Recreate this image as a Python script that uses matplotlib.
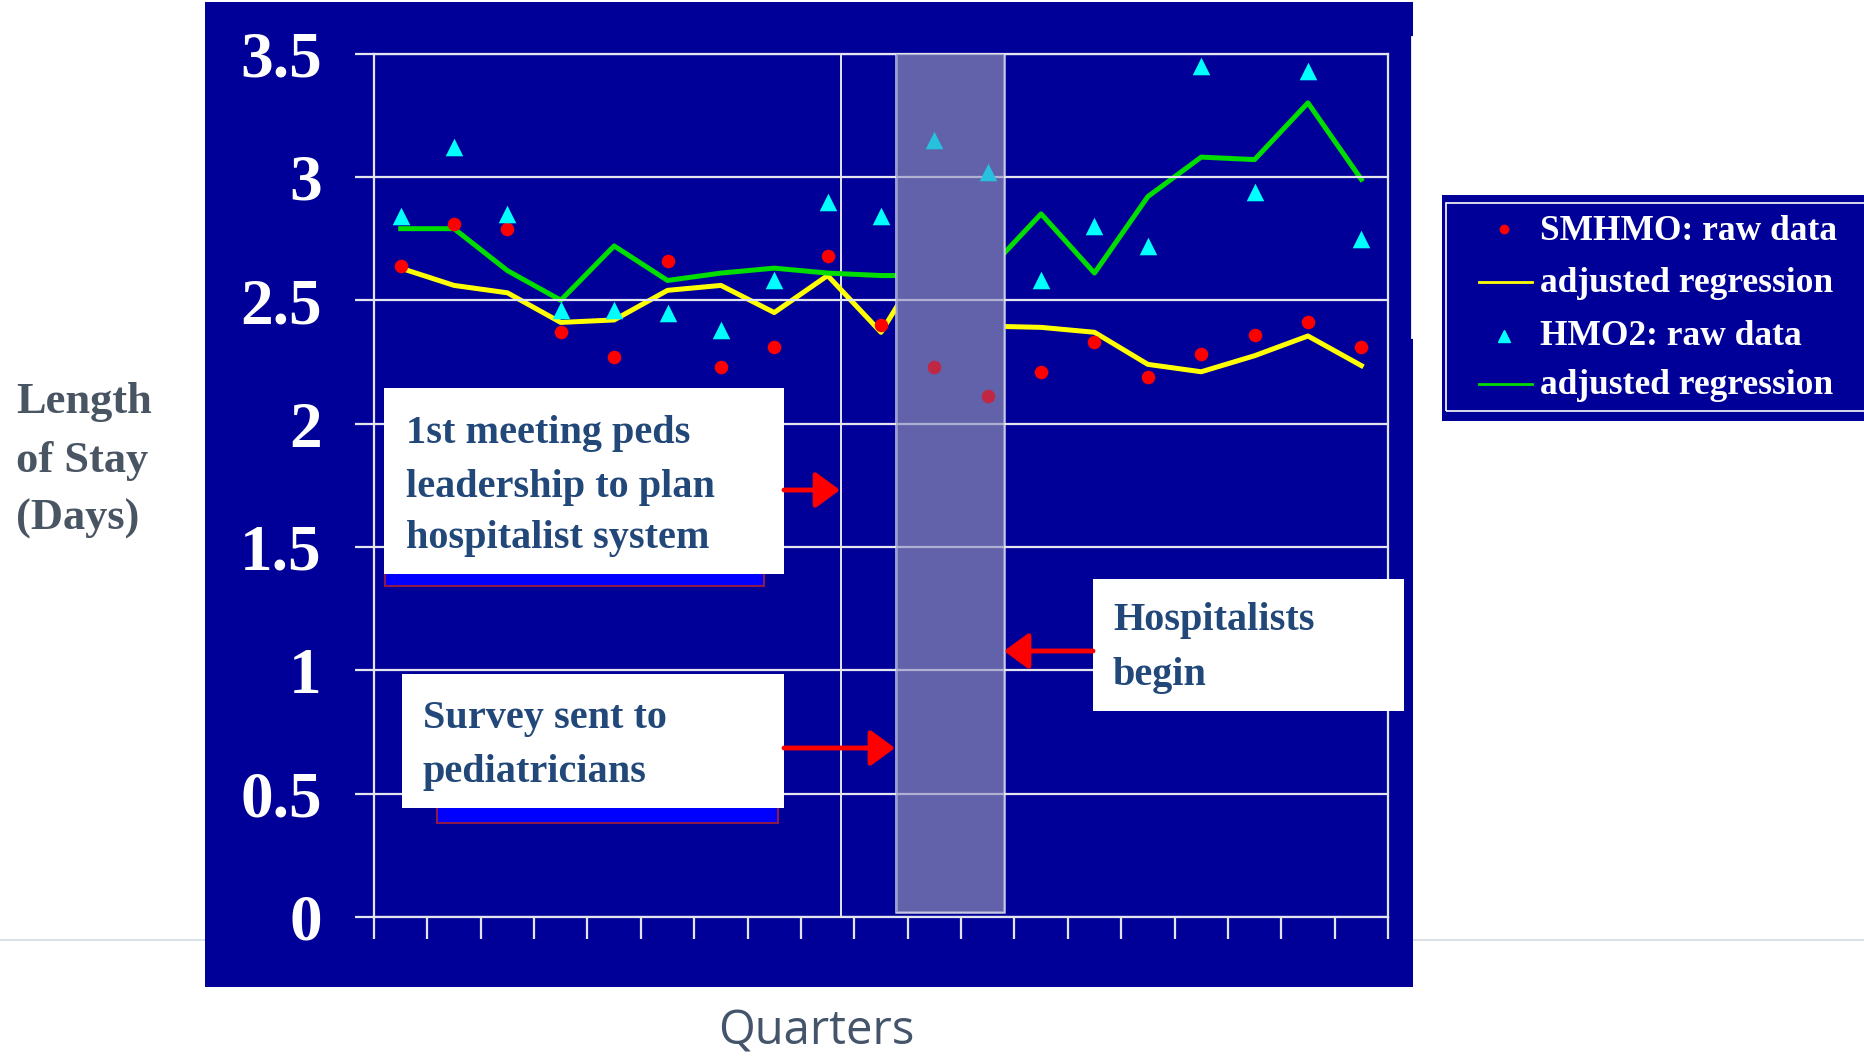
import numpy as np
import matplotlib
matplotlib.use("Agg")
import matplotlib.pyplot as plt
from matplotlib.patches import Rectangle, FancyArrowPatch
from matplotlib.lines import Line2D

# data (length of stay in days, per quarter)
quarters = np.arange(1, 20)
smhmo_raw = [2.64, 2.81, 2.79, 2.37, 2.27, 2.66, 2.23, 2.31, 2.68, 2.40,
             2.23, 2.11, 2.21, 2.33, 2.19, 2.28, 2.36, 2.41, 2.31]
smhmo_adj = [2.63, 2.56, 2.53, 2.41, 2.42, 2.54, 2.56, 2.45, 2.60, 2.37,
             2.72, 2.395, 2.39, 2.37, 2.24, 2.21, 2.275, 2.355, 2.235]
hmo2_raw = [2.84, 3.12, 2.85, 2.46, 2.46, 2.45, 2.38, 2.58, 2.90, 2.84,
            3.15, 3.02, 2.58, 2.80, 2.72, 3.45, 2.94, 3.43, 2.75]
hmo2_adj = [2.79, 2.79, 2.62, 2.50, 2.72, 2.58, 2.61, 2.63, 2.61, 2.60,
            2.60, 2.62, 2.85, 2.61, 2.92, 3.08, 3.07, 3.30, 2.99]
yticks = [0, 0.5, 1, 1.5, 2, 2.5, 3, 3.5]
ytick_labels = ["0", "0.5", "1", "1.5", "2", "2.5", "3", "3.5"]
legend_labels = ["SMHMO: raw data", "adjusted regression",
                 "HMO2: raw data", "adjusted regression"]
meeting_q = 9.25
band_q = (10.29, 12.30)

W, H = 1865, 1057
BG = "#000099"
BAND = "#6262AA"
GRID = "#E4E4EE"
NAVY_TXT = "#22487A"
SERIF = "Liberation Serif"


def fx(x):
    return x / W


def fy(y):
    return 1 - y / H


fig = plt.figure(figsize=(W / 100, H / 100), dpi=100)
fig.patch.set_facecolor("white")

# slide footer line and blue panel
fig.add_artist(Line2D([0, 1], [fy(940)] * 2, color="#D5DCE4", lw=1.2, zorder=-3))
fig.add_artist(Rectangle((fx(205), fy(987)), fx(1413) - fx(205), fy(2) - fy(987),
                         facecolor=BG, edgecolor="none", zorder=-2))
fig.add_artist(Line2D([fx(1412)] * 2, [fy(337), fy(37)], color="white", lw=2, zorder=-1))

ax = fig.add_axes([fx(374), fy(917), fx(1388) - fx(374), fy(53.5) - fy(917)])
ax.set_facecolor(BG)
ax.set_xlim(0.5, 19.5)
ax.set_ylim(0, 3.5)

for y in yticks:
    ax.axhline(y, color=GRID, lw=1.6, zorder=3.5)
ax.axvline(meeting_q, color=GRID, lw=1.4, zorder=1)

ax.plot(quarters, smhmo_adj, color="#FFFF00", lw=3.6, zorder=2)
ax.plot(quarters, hmo2_adj, color="#00DD00", lw=3.6, zorder=2)

# shaded transition period hides the regression lines
ax.add_patch(Rectangle((band_q[0], 0.02), band_q[1] - band_q[0], 3.49,
                       facecolor=BAND, edgecolor="#C8C8E4", lw=1.8, zorder=3))

ax.scatter(quarters, smhmo_raw, marker="o", s=95, color="#FF0000", lw=0, zorder=4)
ax.scatter(quarters, hmo2_raw, marker="^", s=160, color="#00FFFF", lw=0, zorder=4)

ax.add_patch(Rectangle((band_q[0], 0.02), band_q[1] - band_q[0], 3.49,
                       facecolor=BAND, edgecolor="none", alpha=0.4, zorder=5))

for side in ["left", "right", "bottom", "top"]:
    ax.spines[side].set_color(GRID)
    ax.spines[side].set_linewidth(1.6)

ax.set_yticks(yticks)
ax.set_yticklabels(ytick_labels, fontfamily=SERIF, fontweight="bold")
ax.set_xticks(np.arange(0.5, 19.6, 1))
ax.set_xticklabels([])
ax.tick_params(axis="y", length=13.7, width=1.6, color=GRID, pad=24,
               labelsize=47, labelcolor="white")
ax.tick_params(axis="x", length=16, width=1.6, color=GRID)

# axis titles
for txt, yb in zip(["Length", "of Stay", "(Days)"], [413, 472, 530]):
    fig.text(fx(16), fy(yb), txt, fontsize=32, fontweight="bold", family=SERIF,
             color="#4A5563", va="baseline", ha="left")
fig.text(fx(816), fy(1044), "Quarters", fontsize=34, family="Open Sans",
         color="#44546A", ha="center", va="baseline")


def note_box(x0, y0, x1, y1, lines, baselines, tx, shadow=None):
    if shadow is not None:
        sx0, sx1, sy1 = shadow
        fig.add_artist(Rectangle((fx(sx0), fy(sy1)), fx(sx1) - fx(sx0), fy(y1 - 10) - fy(sy1),
                                 facecolor="#0000FF", edgecolor="#8B1A4A", lw=1.5, zorder=5))
    fig.add_artist(Rectangle((fx(x0), fy(y1)), fx(x1) - fx(x0), fy(y0) - fy(y1),
                             facecolor="white", edgecolor="none", zorder=6))
    for t, yb in zip(lines, baselines):
        fig.text(fx(tx), fy(yb), t, fontsize=29, fontweight="bold", family=SERIF,
                 color=NAVY_TXT, va="baseline", ha="left", zorder=7)


def red_arrow(x0, x1, y):
    fig.add_artist(FancyArrowPatch((fx(x0), fy(y)), (fx(x1), fy(y)),
                                   transform=fig.transFigure,
                                   arrowstyle="-|>,head_length=0.75,head_width=0.55",
                                   mutation_scale=20, color="#FF0000", lw=3.5,
                                   shrinkA=0, shrinkB=0, zorder=6))


note_box(384, 388, 784, 574,
         ["1st meeting peds", "leadership to plan", "hospitalist system"],
         [443, 497, 548], 406, shadow=(385, 764, 586))
red_arrow(784, 840, 490)

note_box(402, 674, 784, 808, ["Survey sent to", "pediatricians"],
         [728, 782], 423, shadow=(437, 778, 823))
red_arrow(784, 895, 748)

note_box(1093, 579, 1404, 711, ["Hospitalists", "begin"], [630, 685], 1113)
red_arrow(1093, 1004, 651)

# legend panel
fig.add_artist(Rectangle((fx(1442), fy(421)), fx(1870) - fx(1442), fy(195) - fy(421),
                         facecolor=BG, edgecolor="none", zorder=5))
fig.add_artist(Rectangle((fx(1446), fy(411)), fx(1870) - fx(1446), fy(203) - fy(411),
                         facecolor="none", edgecolor="white", lw=1.2, zorder=6))
fig.add_artist(Line2D([fx(1504)], [fy(229)], marker="o", ms=6, color="#FF0000", lw=0, zorder=7))
fig.add_artist(Line2D([fx(1479), fx(1532)], [fy(282)] * 2, color="#FFFF00", lw=2, zorder=7))
fig.add_artist(Line2D([fx(1504)], [fy(336)], marker="^", ms=8, color="#00FFFF", lw=0, zorder=7))
fig.add_artist(Line2D([fx(1479), fx(1532)], [fy(384)] * 2, color="#00DD00", lw=2, zorder=7))
for t, yb in zip(legend_labels, [240, 292, 345, 394]):
    fig.text(fx(1540), fy(yb), t, fontsize=25.5, fontweight="bold", family=SERIF,
             color="white", va="baseline", ha="left", zorder=7)

fig.savefig("out.png", dpi=100, facecolor="white")
